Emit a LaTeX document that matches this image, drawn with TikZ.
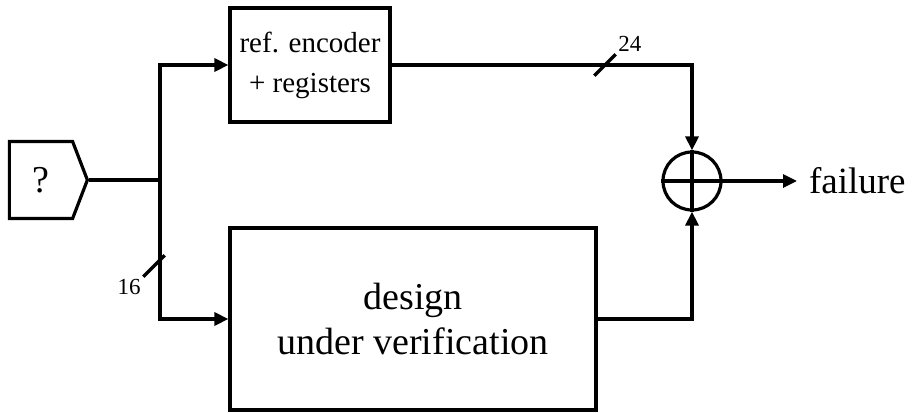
\documentclass[tikz,border=0pt]{standalone}
\usepackage{fontspec}
\setmainfont{Liberation Serif}
\usetikzlibrary{
  arrows.meta,
  shapes.symbols,
  shapes.misc
}

\begin{document}
\begin{tikzpicture}[
  x=1pt, y=-1pt,
  line width=3.2pt,
  >={Triangle[length=14pt,width=13pt]},
  block/.style={draw, rectangle, align=center, inner sep=0pt},
  bus/.style={strike out, draw, minimum size=18pt, inner sep=0pt, line width=3.4pt},
  busnum/.style={font=\fontsize{23}{23}\selectfont, inner sep=1pt},
]
\useasboundingbox (0,0) rectangle (912,412);
\node[draw, signal, signal to=east, signal pointer angle=138,
  minimum width=78pt, minimum height=77pt, inner sep=0pt,
  font=\fontsize{38}{38}\selectfont] (input) at (41,180) {?};
\coordinate (split) at (160,180);
\node[block, minimum width=160pt, minimum height=114pt,
  font=\fontsize{29}{40}\selectfont] (ref) at (310,65) {ref. encoder\\+ registers};
\node[block, minimum width=366pt, minimum height=182pt,
  font=\fontsize{38}{45}\selectfont] (dut) at (413,319) {design\\under verification};
\node[draw, circle, minimum size=58pt, inner sep=0pt] (sum) at (692,181) {};
\draw (sum.north) -- (sum.south) (sum.west) -- (sum.east);
\node[anchor=west, inner sep=0pt, outer sep=12pt,
  font=\fontsize{37}{37}\selectfont] (fail) at (797,181) {failure};
% connectors
\draw (input.east) -- (split);
\draw[->] (split) |- (ref.west);
\draw[->] (split) |- (dut.west);
\draw[->] (ref.east) -| (sum.north);
\draw[->] (dut.east) -| (sum.south);
\draw[->] (sum.east) -- (fail.west);
% bus widths
\node[bus, label={[busnum]north east:24}] (buswide) at (605,65) {};
\node[bus, label={[busnum]south west:16}] (busin) at (154,266) {};
\end{tikzpicture}
\end{document}
